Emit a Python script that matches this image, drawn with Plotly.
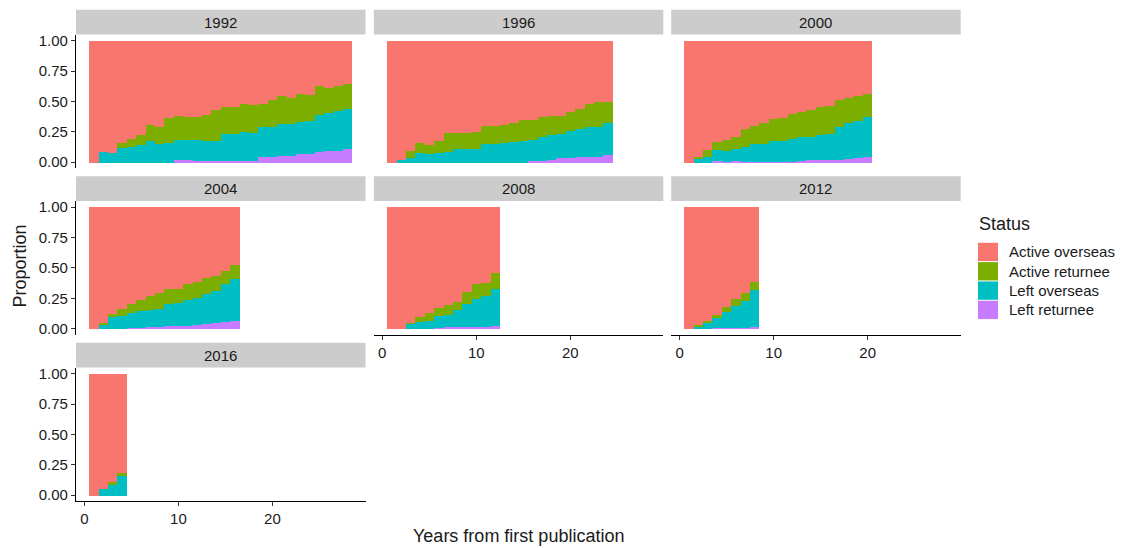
import plotly.graph_objects as go

W, H = 1121, 548

cohorts = ["1992", "1996", "2000", "2004", "2008", "2012", "2016"]
statuses = ["Active overseas", "Active returnee", "Left overseas", "Left returnee"]
status_colors = ["#F8766D", "#7CAE00", "#00BFC4", "#C77CFF"]
y_tick_vals = [0, 0.25, 0.5, 0.75, 1.0]
y_tick_text = ["0.00", "0.25", "0.50", "0.75", "1.00"]
x_tick_vals = [0, 10, 20]
x_tick_text = ["0", "10", "20"]

# ---- proportions by years from first publication (1..N) ----
ao_1992 = [1, 0.910, 0.921, 0.840, 0.807, 0.774, 0.693, 0.709, 0.633, 0.617, 0.622, 0.628, 0.611, 0.568,
           0.546, 0.546, 0.514, 0.530, 0.514, 0.481, 0.454, 0.470, 0.437, 0.444, 0.372, 0.389, 0.372, 0.356]
ar_1992 = [0, 0, 0, 0.038, 0.065, 0.082, 0.130, 0.136, 0.207, 0.195, 0.190, 0.184, 0.212, 0.255,
           0.218, 0.218, 0.233, 0.228, 0.195, 0.228, 0.228, 0.212, 0.229, 0.216, 0.239, 0.206, 0.207, 0.206]
lo_1992 = [0, 0.090, 0.079, 0.122, 0.128, 0.144, 0.177, 0.155, 0.160, 0.164, 0.164, 0.174, 0.163, 0.163,
           0.222, 0.222, 0.239, 0.228, 0.245, 0.245, 0.261, 0.261, 0.261, 0.267, 0.299, 0.310, 0.326, 0.327]
lr_1992 = [0, 0, 0, 0, 0, 0, 0, 0, 0, 0.024, 0.024, 0.014, 0.014, 0.014,
           0.014, 0.014, 0.014, 0.014, 0.046, 0.046, 0.057, 0.057, 0.073, 0.073, 0.090, 0.095, 0.095, 0.111]

ao_1996 = [1, 0.976, 0.905, 0.840, 0.856, 0.823, 0.758, 0.758, 0.758, 0.747, 0.698, 0.698,
           0.693, 0.677, 0.649, 0.649, 0.628, 0.617, 0.617, 0.584, 0.562, 0.514, 0.503, 0.503]
ar_1996 = [0, 0, 0.054, 0.081, 0.071, 0.098, 0.152, 0.131, 0.131, 0.142, 0.147, 0.147,
           0.147, 0.152, 0.174, 0.163, 0.163, 0.157, 0.147, 0.158, 0.164, 0.195, 0.206, 0.174]
lo_1996 = [0, 0.024, 0.041, 0.079, 0.073, 0.079, 0.090, 0.111, 0.111, 0.111, 0.155, 0.155,
           0.160, 0.171, 0.177, 0.174, 0.195, 0.202, 0.195, 0.217, 0.228, 0.245, 0.245, 0.260]
lr_1996 = [0, 0, 0, 0, 0, 0, 0, 0, 0, 0, 0, 0,
           0, 0, 0, 0.014, 0.014, 0.024, 0.041, 0.041, 0.046, 0.046, 0.046, 0.063]

ao_2000 = [1, 0.954, 0.894, 0.829, 0.812, 0.791, 0.726, 0.698, 0.677, 0.644,
           0.633, 0.601, 0.584, 0.568, 0.546, 0.535, 0.486, 0.470, 0.454, 0.432]
ar_2000 = [0, 0.016, 0.060, 0.065, 0.093, 0.098, 0.146, 0.147, 0.168, 0.179,
           0.190, 0.206, 0.207, 0.223, 0.228, 0.229, 0.223, 0.207, 0.206, 0.196]
lo_2000 = [0, 0.030, 0.046, 0.092, 0.087, 0.097, 0.120, 0.147, 0.147, 0.169,
           0.169, 0.185, 0.195, 0.185, 0.202, 0.212, 0.267, 0.293, 0.299, 0.326]
lr_2000 = [0, 0, 0, 0.014, 0.008, 0.014, 0.008, 0.008, 0.008, 0.008,
           0.008, 0.008, 0.014, 0.024, 0.024, 0.024, 0.024, 0.030, 0.041, 0.046]

ao_2004 = [1, 0.951, 0.880, 0.837, 0.799, 0.766, 0.734, 0.707,
           0.674, 0.674, 0.636, 0.620, 0.587, 0.571, 0.527, 0.478]
ar_2004 = [0, 0.016, 0.022, 0.060, 0.071, 0.087, 0.114, 0.130,
           0.125, 0.114, 0.130, 0.130, 0.130, 0.119, 0.109, 0.114]
lo_2004 = [0, 0.033, 0.098, 0.103, 0.125, 0.142, 0.136, 0.147,
           0.179, 0.190, 0.212, 0.217, 0.245, 0.261, 0.310, 0.343]
lr_2004 = [0, 0, 0, 0, 0.005, 0.005, 0.016, 0.016,
           0.022, 0.022, 0.022, 0.033, 0.038, 0.049, 0.054, 0.065]

ao_2008 = [1, 1, 0.951, 0.902, 0.870, 0.832, 0.804, 0.783, 0.701, 0.636, 0.625, 0.543]
ar_2008 = [0, 0, 0.011, 0.044, 0.065, 0.065, 0.082, 0.065, 0.098, 0.119, 0.109, 0.131]
lo_2008 = [0, 0, 0.038, 0.054, 0.065, 0.098, 0.098, 0.136, 0.185, 0.229, 0.250, 0.304]
lr_2008 = [0, 0, 0, 0, 0, 0.005, 0.016, 0.016, 0.016, 0.016, 0.016, 0.022]

ao_2012 = [1, 0.967, 0.935, 0.886, 0.821, 0.755, 0.707, 0.620]
ar_2012 = [0, 0.017, 0.016, 0.027, 0.043, 0.060, 0.065, 0.065]
lo_2012 = [0, 0.016, 0.049, 0.082, 0.131, 0.180, 0.223, 0.299]
lr_2012 = [0, 0, 0, 0.005, 0.005, 0.005, 0.005, 0.016]

ao_2016 = [1, 0.943, 0.889, 0.815]
ar_2016 = [0, 0, 0.016, 0.025]
lo_2016 = [0, 0.057, 0.095, 0.160]
lr_2016 = [0, 0, 0, 0]

cohort_data = {
    "1992": [ao_1992, ar_1992, lo_1992, lr_1992],
    "1996": [ao_1996, ar_1996, lo_1996, lr_1996],
    "2000": [ao_2000, ar_2000, lo_2000, lr_2000],
    "2004": [ao_2004, ar_2004, lo_2004, lr_2004],
    "2008": [ao_2008, ar_2008, lo_2008, lr_2008],
    "2012": [ao_2012, ar_2012, lo_2012, lr_2012],
    "2016": [ao_2016, ar_2016, lo_2016, lr_2016],
}

# ---- layout geometry (pixels) ----
col_px = [(76.0, 365.5), (373.8, 663.3), (671.2, 960.7)]
row_px = [(31.9, 166.8), (199.9, 334.8), (367.9, 502.8)]
strip_h = 25
positions = [(0, 0), (0, 1), (0, 2), (1, 0), (1, 1), (1, 2), (2, 0)]
bottom_panels = {"1992": False, "1996": False, "2000": False,
                 "2004": False, "2008": True, "2012": True, "2016": True}

FONT = "Liberation Sans, Arial, Helvetica, sans-serif"
TXT = "#1a1a1a"


def px_x(v):
    return v / W


def px_y(v):
    return 1 - v / H


fig = go.Figure()
shapes = []
annotations = []

for k, cohort in enumerate(cohorts, start=1):
    r, c = positions[k - 1]
    xs = "" if k == 1 else str(k)
    vals = cohort_data[cohort]
    years = list(range(1, len(vals[0]) + 1))
    # stack bottom -> top: Left returnee, Left overseas, Active returnee, Active overseas
    for si in [3, 2, 1, 0]:
        fig.add_trace(go.Bar(
            x=years, y=vals[si], name=statuses[si],
            marker=dict(color=status_colors[si], line=dict(width=0)),
            xaxis="x" + xs, yaxis="y" + xs, showlegend=False,
            hovertemplate=statuses[si] + ": %{y:.3f}<extra>" + cohort + "</extra>",
        ))
    x0, x1 = col_px[c]
    y0, y1 = row_px[r]
    is_bottom = bottom_panels[cohort]
    is_left = c == 0
    fig.layout["xaxis" + xs] = dict(
        domain=[px_x(x0), px_x(x1)], range=[-0.9, 29.9], anchor="y" + xs,
        showgrid=False, zeroline=False,
        showline=is_bottom, linecolor="black", linewidth=1.2,
        ticks="outside" if is_bottom else "", ticklen=4, tickwidth=1.2, tickcolor="#333",
        tickvals=x_tick_vals, ticktext=x_tick_text, showticklabels=is_bottom,
        tickfont=dict(family=FONT, size=15, color=TXT), fixedrange=True,
    )
    fig.layout["yaxis" + xs] = dict(
        domain=[px_y(y1), px_y(y0)], range=[-0.05, 1.05], anchor="x" + xs,
        showgrid=False, zeroline=False,
        showline=is_left, linecolor="black", linewidth=1.2,
        ticks="outside" if is_left else "", ticklen=4, tickwidth=1.2, tickcolor="#333",
        tickvals=y_tick_vals, ticktext=y_tick_text, showticklabels=is_left,
        tickfont=dict(family=FONT, size=15, color=TXT), fixedrange=True,
    )
    # facet strip
    shapes.append(dict(type="rect", xref="paper", yref="paper",
                       x0=px_x(x0), x1=px_x(x1), y0=px_y(y0), y1=px_y(y0 - strip_h),
                       fillcolor="#CCCCCC", line=dict(width=0), layer="below"))
    annotations.append(dict(xref="paper", yref="paper", x=px_x((x0 + x1) / 2),
                            y=px_y(y0 - strip_h / 2), text=cohort, showarrow=False,
                            xanchor="center", yanchor="middle",
                            font=dict(family=FONT, size=15, color=TXT)))

# axis titles
annotations.append(dict(xref="paper", yref="paper", x=px_x(518), y=px_y(538),
                        text="Years from first publication", showarrow=False,
                        xanchor="center", yanchor="middle",
                        font=dict(family=FONT, size=18, color=TXT)))
annotations.append(dict(xref="paper", yref="paper", x=px_x(20), y=px_y(266),
                        text="Proportion", showarrow=False, textangle=-90,
                        xanchor="center", yanchor="middle",
                        font=dict(family=FONT, size=18, color=TXT)))

# legend (drawn as keys + labels)
annotations.append(dict(xref="paper", yref="paper", x=px_x(977), y=px_y(223),
                        text="Status", showarrow=False, xanchor="left", yanchor="middle",
                        font=dict(family=FONT, size=18, color=TXT)))
key_top = 242.0
key_step = 19.5
for i, (s, col) in enumerate(zip(statuses, status_colors)):
    t = key_top + i * key_step
    shapes.append(dict(type="rect", xref="paper", yref="paper",
                       x0=px_x(978), x1=px_x(998), y0=px_y(t + key_step - 1), y1=px_y(t),
                       fillcolor=col, line=dict(width=0)))
    annotations.append(dict(xref="paper", yref="paper", x=px_x(1007),
                            y=px_y(t + (key_step - 1) / 2), text=s, showarrow=False,
                            xanchor="left", yanchor="middle",
                            font=dict(family=FONT, size=15, color=TXT)))

fig.update_layout(
    width=W, height=H, margin=dict(l=0, r=0, t=0, b=0),
    barmode="stack", bargap=0,
    plot_bgcolor="white", paper_bgcolor="white",
    shapes=shapes, annotations=annotations, showlegend=False,
    font=dict(family=FONT, color=TXT),
)

fig.write_html(
    "out.html",
    config={"displayModeBar": False},
    post_script="document.body.style.margin='0';document.body.style.padding='0';"
                "document.documentElement.style.overflow='hidden';",
)
